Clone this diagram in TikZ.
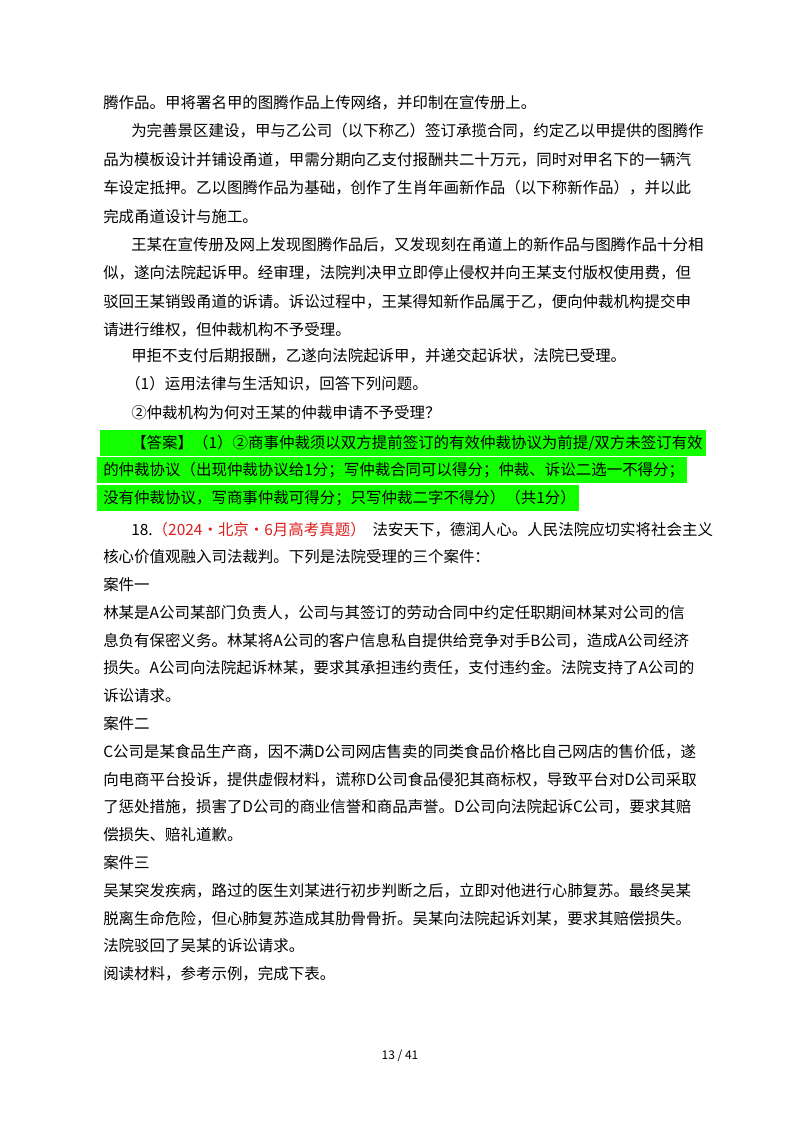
\documentclass[tikz,border=0pt]{standalone}
\usepackage{fontspec}
\usetikzlibrary{backgrounds}
\setmainfont{Noto Sans CJK SC}
\begin{document}
\begin{tikzpicture}[x=0.75pt,y=-0.75pt,
  ln/.style={anchor=west,inner sep=0pt,font=\fontsize{11.6pt}{12pt}\selectfont},
  hl/.style={fill=green!90!lime,draw=none}]
\useasboundingbox (0,0) rectangle (800,1132);
\node[ln] (l1) at (103,103) {腾作品。甲将署名甲的图腾作品上传网络，并印制在宣传册上。};
\node[ln] (l2) at (131,131) {为完善景区建设，甲与乙公司（以下称乙）签订承揽合同，约定乙以甲提供的图腾作};
\node[ln] (l3) at (103,160) {品为模板设计并铺设甬道，甲需分期向乙支付报酬共二十万元，同时对甲名下的一辆汽};
\node[ln] (l4) at (103,188) {车设定抵押。乙以图腾作品为基础，创作了生肖年画新作品（以下称新作品），并以此};
\node[ln] (l5) at (103,217) {完成甬道设计与施工。};
\node[ln] (l6) at (131,245) {王某在宣传册及网上发现图腾作品后，又发现刻在甬道上的新作品与图腾作品十分相};
\node[ln] (l7) at (103,273) {似，遂向法院起诉甲。经审理，法院判决甲立即停止侵权并向王某支付版权使用费，但};
\node[ln] (l8) at (103,302) {驳回王某销毁甬道的诉请。诉讼过程中，王某得知新作品属于乙，便向仲裁机构提交申};
\node[ln] (l9) at (103,330) {请进行维权，但仲裁机构不予受理。};
\node[ln] (l11) at (131,356) {甲拒不支付后期报酬，乙遂向法院起诉甲，并递交起诉状，法院已受理。};
\node[ln] (l12) at (125,384) {（1）运用法律与生活知识，回答下列问题。};
\node[ln] (l13) at (131,413) {②仲裁机构为何对王某的仲裁申请不予受理？};
\node[ln] (l14) at (131,443) {【答案】（1）②商事仲裁须以双方提前签订的有效仲裁协议为前提/双方未签订有效};
\node[ln] (l15) at (103,470) {的仲裁协议（出现仲裁协议给1分；写仲裁合同可以得分；仲裁、诉讼二选一不得分；};
\node[ln] (l16) at (103,498) {没有仲裁协议，写商事仲裁可得分；只写仲裁二字不得分）（共1分）};
\node[ln] (l17) at (131,530) {18.\textcolor[RGB]{220,30,30}{（2024·北京·6月高考真题）}\ \ 法安天下，德润人心。人民法院应切实将社会主义};
\node[ln] (l18) at (103,557) {核心价值观融入司法裁判。下列是法院受理的三个案件：};
\node[ln] (l19) at (103,585) {案件一};
\node[ln] (l20) at (103,613) {林某是A公司某部门负责人，公司与其签订的劳动合同中约定任职期间林某对公司的信};
\node[ln] (l21) at (103,641) {息负有保密义务。林某将A公司的客户信息私自提供给竞争对手B公司，造成A公司经济};
\node[ln] (l22) at (103,668) {损失。A公司向法院起诉林某，要求其承担违约责任，支付违约金。法院支持了A公司的};
\node[ln] (l23) at (103,696) {诉讼请求。};
\node[ln] (l24) at (103,724) {案件二};
\node[ln] (l25) at (103,752) {C公司是某食品生产商，因不满D公司网店售卖的同类食品价格比自己网店的售价低，遂};
\node[ln] (l26) at (103,780) {向电商平台投诉，提供虚假材料，谎称D公司食品侵犯其商标权，导致平台对D公司采取};
\node[ln] (l27) at (103,807) {了惩处措施，损害了D公司的商业信誉和商品声誉。D公司向法院起诉C公司，要求其赔};
\node[ln] (l28) at (103,835) {偿损失、赔礼道歉。};
\node[ln] (l29) at (103,863) {案件三};
\node[ln] (l30) at (103,891) {吴某突发疾病，路过的医生刘某进行初步判断之后，立即对他进行心肺复苏。最终吴某};
\node[ln] (l31) at (103,919) {脱离生命危险，但心肺复苏造成其肋骨骨折。吴某向法院起诉刘某，要求其赔偿损失。};
\node[ln] (l32) at (103,946) {法院驳回了吴某的诉讼请求。};
\node[ln] (l33) at (103,974) {阅读材料，参考示例，完成下表。};
\node[inner sep=0pt,font=\fontsize{9pt}{10pt}\selectfont] (pg) at (400,1056) {13 / 41};
\begin{scope}[on background layer]
\fill[white] (0,0) rectangle (800,1132);
\fill[hl] (100,430) rectangle ([xshift=2pt]l14.east |- 0,456);
\fill[hl] (97,457) rectangle ([xshift=2pt]l15.east |- 0,483);
\fill[hl] (97,485) rectangle ([xshift=2pt]l16.east |- 0,511);
\end{scope}
\end{tikzpicture}
\end{document}
